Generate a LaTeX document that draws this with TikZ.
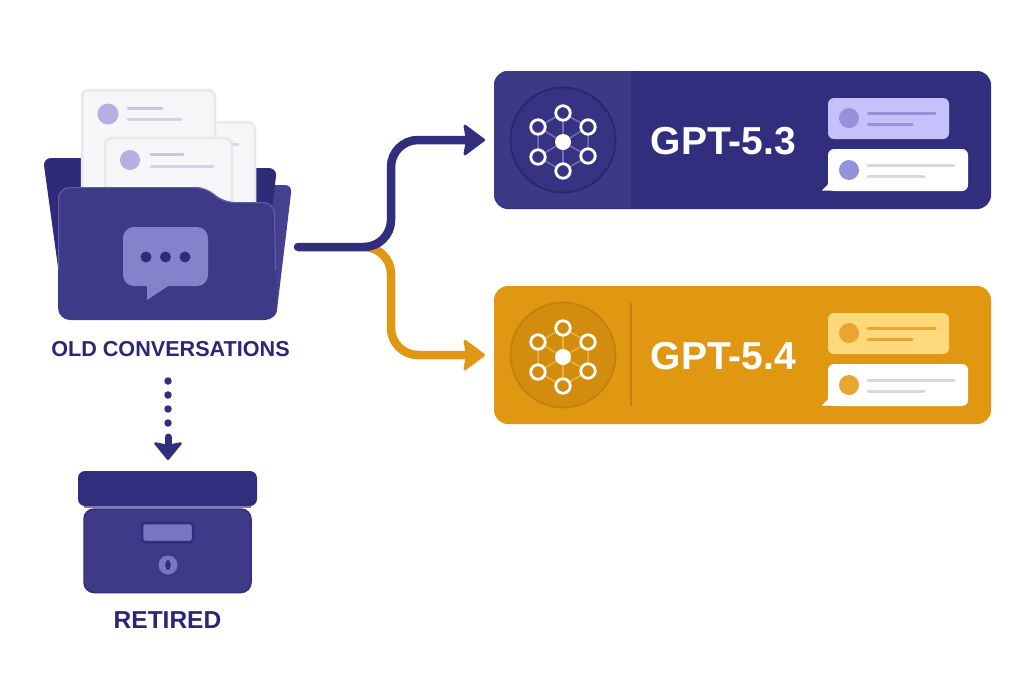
\documentclass[tikz,border=0pt]{standalone}
\usepackage{fontspec}
\setmainfont{Liberation Sans}
\usetikzlibrary{arrows.meta,calc}
\definecolor{navy}{HTML}{312E7D}
\definecolor{folderback}{HTML}{2F2B78}
\definecolor{folderfront}{HTML}{3E3A88}
\definecolor{folderflap}{HTML}{45418F}
\definecolor{folderedge}{HTML}{5F5CA8}
\definecolor{bubblepurple}{HTML}{8581CB}
\definecolor{paper}{HTML}{F6F6F8}
\definecolor{paperedge}{HTML}{E9E9ED}
\definecolor{paperdot}{HTML}{B5B0E0}
\definecolor{paperline}{HTML}{D5D2E8}
\definecolor{labeltext}{HTML}{2A2775}
\definecolor{gold}{HTML}{E09813}
\definecolor{golddark}{HTML}{C2810F}
\definecolor{goldcircle}{HTML}{D28C0E}
\definecolor{goldbubble}{HTML}{FDD97C}
\definecolor{goldaccent}{HTML}{E8A530}
\definecolor{bluepanel}{HTML}{3C3A85}
\definecolor{bluecircle}{HTML}{363383}
\definecolor{bluering}{HTML}{2A2770}
\definecolor{lilac}{HTML}{C6C1FA}
\definecolor{lilacaccent}{HTML}{9591DA}
\definecolor{greyline}{HTML}{D8D8DE}
\tikzset{
  every node/.style={inner sep=0pt,outer sep=0pt},
  caption/.style={font=\bfseries\fontsize{21.6}{21.6}\selectfont,text=labeltext},
  cardbox/.style={rectangle,rounded corners=14pt,minimum width=497pt,minimum height=138pt},
  cardtitle/.style={font=\bfseries\fontsize{39}{39}\selectfont,text=white},
  flow/.style={line width=8.5pt,line cap=round,rounded corners=27pt,
     -{Stealth[length=23pt,width=34pt,inset=3pt,round,line width=3pt]},shorten >=9pt},
  netlink/.style={line width=1.5pt,opacity=.75},
  netnode/.style={circle,line width=2.8pt,draw=white,minimum size=14.5pt},
  chatline/.style={line width=3pt,line cap=round},
}
\newcommand{\modelcard}[9]{%
\begin{scope}[shift={(0,#2)}]
  \node[cardbox,fill=#3] (#1card) at (742.5,140) {};
  \ifnum#2=0
    \fill[bluepanel] (631,71) -- (508,71) arc[start angle=90,end angle=180,radius=14pt] -- (494,194) arc[start angle=180,end angle=270,radius=14pt] -- (631,208) -- cycle;
  \else
    \draw[golddark,line width=1.5pt] (631,88) -- (631,191);
  \fi
  \node[circle,fill=#4,draw=#5,line width=1.8pt,minimum size=105pt] (#1disc) at (563,140) {};
  \coordinate (#1hub) at (563,142);
  \coordinate (#1a) at (563,113);
  \coordinate (#1b) at (588,127);
  \coordinate (#1c) at (588,156);
  \coordinate (#1d) at (563,171);
  \coordinate (#1e) at (538,157);
  \coordinate (#1f) at (538,127);
  \draw[#6,netlink] (#1a)--(#1b)--(#1c)--(#1d)--(#1e)--(#1f)--cycle;
  \foreach \k in {a,b,c,d,e,f}{\draw[#6,netlink] (#1hub)--(#1\k);}
  \foreach \k in {a,b,c,d,e,f}{\node[netnode,fill=#4] at (#1\k) {};}
  \node[circle,fill=white,minimum size=16pt] at (#1hub) {};
  \node[cardtitle] (#1title) at (723.5,141) {#7};
  \fill[#8,rounded corners=6pt] (828,98) rectangle (949,139);
  \fill[#9] (849,118) circle (10pt);
  \draw[#9,chatline] (868,113) -- (935,113);
  \draw[#9,chatline] (868,124.5) -- (912,124.5);
  \fill[white] (822,190.5) -- (832,180) -- (838,190.5) -- cycle;
  \fill[white,rounded corners=6pt] (828,149) rectangle (968,191);
  \fill[#9] (849,170) circle (10pt);
  \draw[greyline,chatline] (868,165) -- (954,165);
  \draw[greyline,chatline] (868,176) -- (924,176);
\end{scope}}
\begin{document}
\begin{tikzpicture}[x=1pt,y=-1pt]
\useasboundingbox (0,0) rectangle (1024,683);
\fill[white] (0,0) rectangle (1024,683);

% folder flap and back
\fill[folderflap,rounded corners=7pt] (262,185) -- (292,185) -- (276,318) -- (255,318) -- cycle;
\fill[folderback,rounded corners=8pt] (43,158) -- (120,158) -- (120,168) -- (277,168) -- (270,225) -- (262,318) -- (65,318) -- cycle;
% papers
\filldraw[fill=paper,draw=paperedge,line width=2.5pt,rounded corners=7pt] (205,122) -- (255,122) -- (255,215) -- (205,215) -- cycle;
\filldraw[fill=paper,draw=paperedge,line width=2.5pt,rounded corners=7pt] (82,200) -- (82,90) -- (215,90) -- (215,200) -- cycle;
\fill[paperdot] (108,114) circle (10.5pt);
\draw[paperline!85!gray,chatline] (128,108) -- (162,108);
\draw[paperline,chatline] (128,119) -- (181,119);
\draw[greyline,chatline] (228,144) -- (238,144);
\filldraw[fill=paper,draw=paperedge,line width=2.5pt,rounded corners=7pt] (105,215) -- (105,138) -- (232,138) -- (232,215) -- cycle;
\fill[paperdot] (130,160) circle (10pt);
\draw[paperline!85!gray,chatline] (151,154) -- (183,154);
\draw[paperline,chatline] (151,166) -- (213,166);
% folder front
\fill[folderfront,rounded corners=12pt]
  (58,187) -- (207,187) -- (222,202) -- (275,202) -- (277,320) -- (58,320) -- cycle;
\draw[folderedge,line width=1.2pt,rounded corners=11pt]
  (58.6,270) -- (58.6,187.6) -- (207,187.6) -- (222,202.6) -- (274.4,202.6) -- (275.5,270);
% chat bubble on the folder
\fill[bubblepurple,rounded corners=11pt] (123,227) rectangle (208,286);
\fill[bubblepurple] (147,280) -- (147,300) -- (168,286) -- (168,280) -- cycle;
\foreach \dx in {146,165.5,185}{\fill[folderback] (\dx,257) circle (5.5pt);}
\coordinate (folderout) at (298,247);
\node[caption] (oldlabel) at (170.5,349) {OLD CONVERSATIONS};

% model cards
\modelcard{up}{0}{navy}{bluecircle}{bluering}{bubblepurple}{GPT-5.3}{lilac}{lilacaccent}
\modelcard{lo}{215}{gold}{goldcircle}{golddark}{goldbubble!60!gold}{GPT-5.4}{goldbubble}{goldaccent}

% branching connectors
\coordinate (split) at (391,247);
\coordinate (branch) at (368,247);
\draw[flow,gold] (branch) -- (split) -- (split |- locard.west) -- (locard.west);
\draw[flow,navy] (folderout) -- (split) -- (split |- upcard.west) -- (upcard.west);

% archive box
\fill[navy,rounded corners=7pt] (78,471) rectangle (257,506);
\fill[folderedge!80!white] (84,505.5) rectangle (251,508);
\filldraw[fill=folderfront,draw=navy,line width=1.5pt,rounded corners=10pt] (84,509) rectangle (251,592.5);
\filldraw[fill=bubblepurple!85!folderfront,draw=navy,line width=2.5pt,rounded corners=3pt] (142,523) rectangle (193,542);
\fill[bubblepurple!85!folderfront] (168,565) circle (9.5pt);
\fill[navy] (168,565) ellipse (2.8pt and 5pt);
\node[caption,font=\bfseries\fontsize{24.5}{24.5}\selectfont] (retlabel) at (167.5,620) {RETIRED};
\coordinate (lidtop) at (168,468);
\coordinate (dotstart) at (168,381);
\coordinate (dotend) at (168,424);
\coordinate (shaftstart) at (168,437);
% dotted retirement connector
\draw[navy,line width=7.5pt,line cap=round,dash pattern=on 0pt off 14pt] (dotstart) -- (dotend);
\draw[navy,line width=7pt,line cap=round,-{Stealth[length=19pt,width=31pt,inset=3pt,round,line width=2.5pt]},shorten >=8pt] (shaftstart) -- (lidtop);
\end{tikzpicture}
\end{document}
